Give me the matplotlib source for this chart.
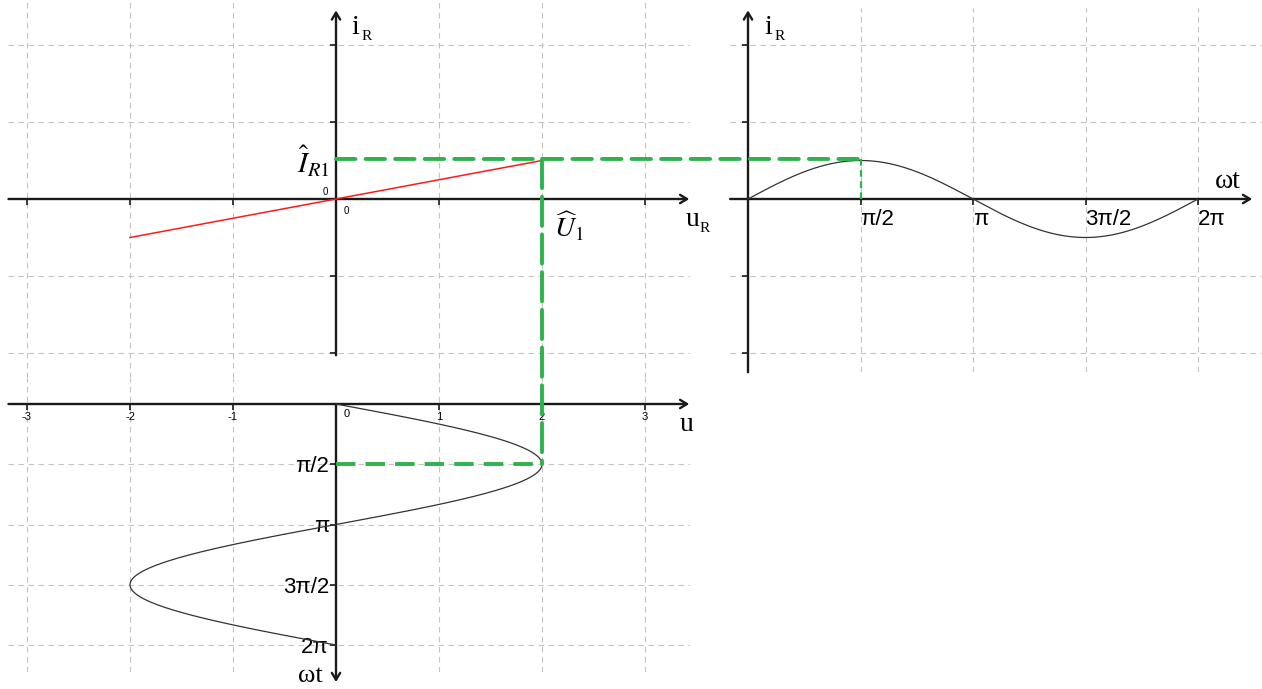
import numpy as np
import matplotlib.pyplot as plt
from matplotlib.patches import ConnectionPatch

plt.rcParams['font.family'] = ['Liberation Sans', 'DejaVu Sans']
plt.rcParams['mathtext.fontset'] = 'stix'

# values
u_line = [-2.0, 2.0]      # u_R span of the red characteristic
i_line = [-0.5, 0.5]      # i_R at those points
u_peak = 2.0              # U1 hat
i_peak = 0.5              # amplitude of i_R(wt)
i_mark = 0.52             # level of the green I_R1 guide
u_ticks = [-3, -2, -1, 1, 2, 3]
u_tick_labels = ['-3', '-2', '-1', '1', '2', '3']
i_ticks = [-2, -1, 1, 2]
wt_ticks = [np.pi / 2, np.pi, 3 * np.pi / 2, 2 * np.pi]
wt_labels = ['π/2', 'π', '3π/2', '2π']

wt = np.linspace(0, 2 * np.pi, 400)

W, H = 1262, 689
fig = plt.figure(figsize=(W / 100, H / 100), dpi=100, facecolor='w')

AX_COL = '#1a1a1a'
GREEN = '#2db34a'
SERIF = 'Liberation Serif'


def panel(box, origin, scale, flip=False):
    # box in pixels (x0, y0, x1, y1), origin = pixel of data (0,0), scale = px per unit
    x0, y0, x1, y1 = box
    ox, oy = origin
    sx, sy = scale
    ax = fig.add_axes([x0 / W, 1 - y1 / H, (x1 - x0) / W, (y1 - y0) / H])
    ax.set_xlim((x0 - ox) / sx, (x1 - ox) / sx)
    if flip:
        ax.set_ylim((y1 - oy) / sy, (y0 - oy) / sy)
    else:
        ax.set_ylim((oy - y1) / sy, (oy - y0) / sy)
    ax.patch.set_alpha(0)
    for s in ['top', 'right']:
        ax.spines[s].set_visible(False)
    for s in ['left', 'bottom']:
        ax.spines[s].set_position(('data', 0))
        ax.spines[s].set_color('none')
    ax.tick_params(direction='out', length=4, width=1.2, color=AX_COL)
    ax.grid(True, color='#c4c4c4', lw=0.8, ls=(0, (5, 4)))
    ax.set_axisbelow(True)
    return ax


def axis_arrow(ax, start, end):
    ax.annotate('', xy=end, xytext=start, annotation_clip=False,
                arrowprops=dict(arrowstyle='->,head_length=0.5,head_width=0.3',
                                lw=1.7, color=AX_COL, shrinkA=0, shrinkB=0))


def sub_label(ax, x, y, main, sub, dx):
    ax.text(x, y, main, fontsize=20, family=SERIF, ha='left', va='baseline')
    ax.annotate(sub, (x, y), xytext=(dx, -4), textcoords='offset points',
                fontsize=11, family=SERIF, va='baseline', annotation_clip=False)


ax_tl = panel((8, 0, 690, 378), (336, 199), (103, 77))
ax_r = panel((730, 8, 1262, 372), (748, 199), (112.5 / (np.pi / 2), 77))
ax_b = panel((8, 378, 690, 672), (336, 404), (103, 241 / (2 * np.pi)), flip=True)

# top-left: u_R - i_R characteristic
ax_tl.set_xticks(u_ticks)
ax_tl.set_xticklabels([])
ax_tl.set_yticks(i_ticks)
ax_tl.set_yticklabels([])
axis_arrow(ax_tl, (-3.18, 0), (3.43, 0))
axis_arrow(ax_tl, (0, -2.03), (0, 2.45))
ax_tl.plot(u_line, i_line, color='#ff1a1a', lw=1.1, zorder=3)
ax_tl.text(-0.1, 0.09, '0', fontsize=7, ha='center', va='center')
ax_tl.text(0.1, -0.16, '0', fontsize=7, ha='center', va='center')
sub_label(ax_tl, 0.15, 2.14, 'i', 'R', 7)
sub_label(ax_tl, 3.39, -0.35, 'u', 'R', 10)
ax_tl.text(-0.06, 0.33, r'$\hat{I}_{R1}$', fontsize=21, ha='right', va='baseline')
ax_tl.text(2.12, -0.5, r'$\widehat{U}_1$', fontsize=20, ha='left', va='baseline')

# right: i_R over wt
ax_r.set_xticks(wt_ticks, wt_labels, fontsize=16)
for lab in ax_r.get_xticklabels():
    lab.set_ha('left')
ax_r.tick_params(axis='x', pad=3)
ax_r.set_yticks(i_ticks)
ax_r.set_yticklabels([])
axis_arrow(ax_r, (-0.25, 0), (7.04, 0))
axis_arrow(ax_r, (0, -2.25), (0, 2.45))
ax_r.plot(wt, i_peak * np.sin(wt), color='#333333', lw=0.9, zorder=3)
ax_r.plot([np.pi / 2, np.pi / 2], [i_mark, 0], color=GREEN, lw=1.6,
          ls=(0, (3, 2)), zorder=4)
sub_label(ax_r, 0.23, 2.14, 'i', 'R', 7)
ax_r.text(6.52, 0.14, 'ωt', fontsize=20, family=SERIF, ha='left', va='baseline')

# bottom: u over wt (time axis pointing down)
ax_b.set_xticks(u_ticks, u_tick_labels, fontsize=8)
ax_b.set_yticks(wt_ticks, wt_labels, fontsize=16)
ax_b.tick_params(axis='x', pad=2)
ax_b.tick_params(axis='y', pad=1)
axis_arrow(ax_b, (-3.18, 0), (3.43, 0))
axis_arrow(ax_b, (0, 0), (0, 7.25))
ax_b.plot(u_peak * np.sin(wt), wt, color='#333333', lw=0.9, zorder=3)
ax_b.plot([0, u_peak], [np.pi / 2, np.pi / 2], color=GREEN, lw=2.8,
          ls=(0, (5, 2.6)), zorder=4)
ax_b.text(0.1, 0.26, '0', fontsize=8, ha='center', va='center')
ax_b.text(3.34, 0.7, 'u', fontsize=20, family=SERIF, ha='left', va='baseline')
ax_b.text(-0.37, 7.37, 'ωt', fontsize=19, family=SERIF, ha='left', va='bottom')

# green guides running between the panels
fig.add_artist(ConnectionPatch(xyA=(0, i_mark), coordsA=ax_tl.transData,
                               xyB=(np.pi / 2, i_mark), coordsB=ax_r.transData,
                               color=GREEN, lw=2.8, ls=(0, (5, 2.6)), zorder=5))
fig.add_artist(ConnectionPatch(xyA=(u_peak, i_mark), coordsA=ax_tl.transData,
                               xyB=(u_peak, np.pi / 2), coordsB=ax_b.transData,
                               color=GREEN, lw=2.8, ls=(0, (7.5, 2.2)), zorder=5))

fig.savefig('out.png', dpi=100)
